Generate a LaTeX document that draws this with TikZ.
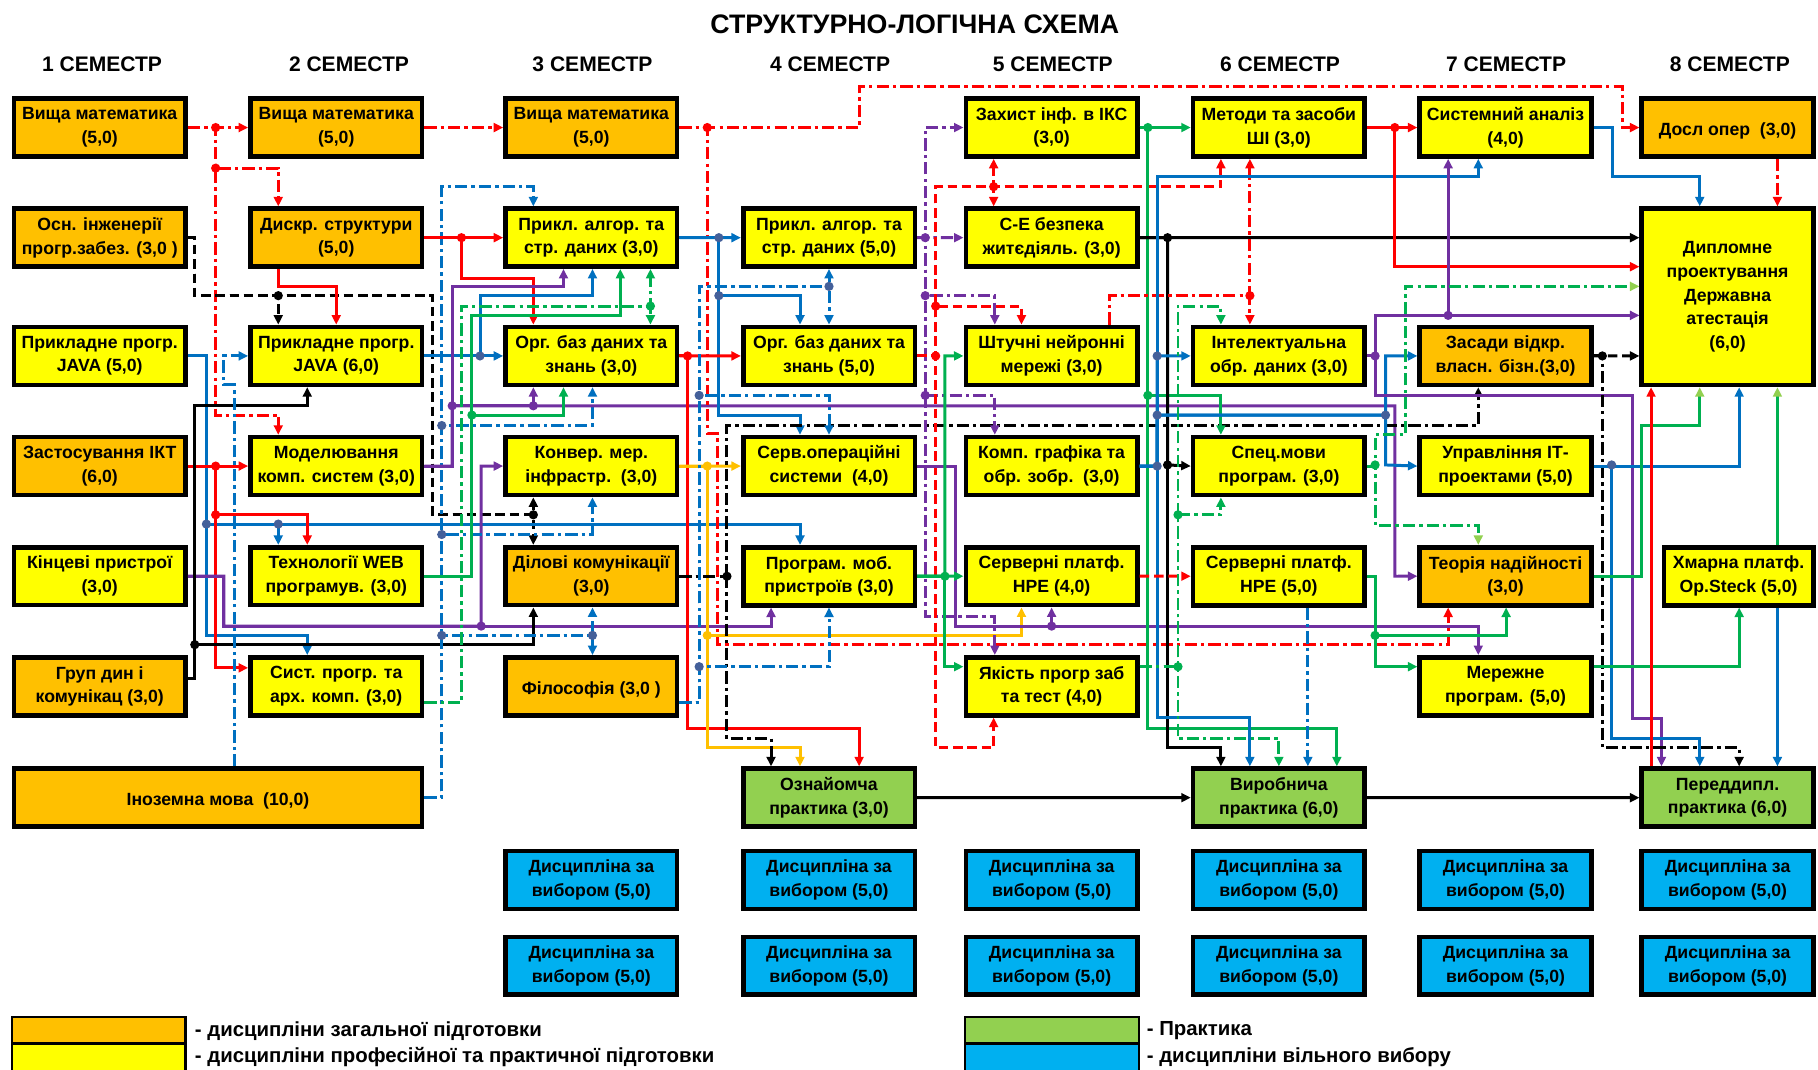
\documentclass[tikz,border=0pt]{standalone}
\usepackage{fontspec}
\setmainfont{Liberation Sans}
\usepackage{xcolor}
\usepackage{tikz}
\usetikzlibrary{arrows.meta, positioning}
\definecolor{forange}{HTML}{FFC000}
\definecolor{fyellow}{HTML}{FFFF00}
\definecolor{fgreen}{HTML}{92D050}
\definecolor{fblue}{HTML}{00B0F0}
\definecolor{lred}{HTML}{FF0000}
\definecolor{lblue}{HTML}{0070C0}
\definecolor{lpurple}{HTML}{7030A0}
\definecolor{lgreen}{HTML}{00B050}
\definecolor{lgold}{HTML}{FFC000}
\definecolor{ldot}{HTML}{44609A}
\tikzstyle{arrow} = [-{Triangle[length=7pt,width=6.5pt]}]
\newcommand{\jdot}[2]{\fill[#1] (#2) circle (3.4pt);}

\begin{document}
\begin{tikzpicture}[
    x=0.03cm, y=-0.03cm,
    node distance=1.23cm,
    course/.style={
      draw=black,
      line width=3.4pt,
      minimum width=4.44cm,
      minimum height=1.5cm,
      inner sep=1pt,
      align=center,
      execute at begin node=\rule{0pt}{14pt},
      font=\fontsize{13pt}{17.4pt}\selectfont\bfseries
    },
    gen/.style={course, fill=forange},
    prof/.style={course, fill=fyellow},
    prac/.style={course, fill=fgreen},
    elect/.style={course, fill=fblue},
    link/.style={line width=2.2pt, arrow},
    lgtip/.style={line width=2.2pt, -{Triangle[length=7pt,width=6.5pt,color=fgreen]}},
    dd/.style={dash pattern=on 9pt off 3pt on 2.5pt off 3pt},
    dsh/.style={dash pattern=on 7pt off 3.5pt},
    sem/.style={font=\fontsize{15.5pt}{18pt}\selectfont\bfseries},
    legtext/.style={anchor=west, font=\fontsize{15pt}{17pt}\selectfont\bfseries}
]
\useasboundingbox (0,0) rectangle (1568,922);

% Headings
\node (title) [font=\fontsize{19.7pt}{23pt}\selectfont\bfseries] at (789,21) {СТРУКТУРНО-ЛОГІЧНА СХЕМА};
\node (sem1) [sem] at (88,55) {1 СЕМЕСТР};
\node (sem2) [sem] at (301,55) {2 СЕМЕСТР};
\node (sem3) [sem] at (511,55) {3 СЕМЕСТР};
\node (sem4) [sem] at (716,55) {4 СЕМЕСТР};
\node (sem5) [sem] at (908,55) {5 СЕМЕСТР};
\node (sem6) [sem] at (1104,55) {6 СЕМЕСТР};
\node (sem7) [sem] at (1299,55) {7 СЕМЕСТР};
\node (sem8) [sem] at (1492,55) {8 СЕМЕСТР};

% Semester 1
\node (vm1) [gen] at (86,110) {Вища математика\\(5,0)};
\node (osn) [gen, below=of vm1] {Осн. інженерії\\прогр.забез. (3,0 )};
\node (java1) [prof, below=1.44cm of osn] {Прикладне прогр.\\JAVA (5,0)};
\node (ikt) [gen, below=of java1] {Застосування ІКТ\\(6,0)};
\node (kinc) [prof, below=of ikt] {Кінцеві пристрої\\(3,0)};
\node (grup) [gen, below=of kinc] {Груп дин і\\комунікац (3,0)};
\node (inoz) [gen, minimum width=10.56cm] at (188,688) {Іноземна мова\ \ (10,0)};

% Semester 2
\node (vm2) [gen] at (290,110) {Вища математика\\(5,0)};
\node (dyskr) [gen, below=of vm2] {Дискр. структури\\(5,0)};
\node (java2) [prof, below=1.44cm of dyskr] {Прикладне прогр.\\JAVA (6,0)};
\node (model) [prof, below=of java2] {Моделювання\\комп. систем (3,0)};
\node (web) [prof, below=of model] {Технології WEB\\програмув. (3,0)};
\node (syst) [prof, below=of web] {Сист. прогр. та\\арх. комп. (3,0)};

% Semester 3
\node (vm3) [gen] at (510,110) {Вища математика\\(5,0)};
\node (alg3) [prof, below=of vm3] {Прикл. алгор. та\\стр. даних (3,0)};
\node (bd3) [prof, below=1.44cm of alg3] {Орг. баз даних та\\знань (3,0)};
\node (konv) [prof, below=of bd3] {Конвер. мер.\\інфрастр.\ \ (3,0)};
\node (dilov) [gen, below=of konv] {Ділові комунікації\\(3,0)};
\node (filos) [gen, below=of dilov] {Філософія (3,0 )};

% Semester 4
\node (alg4) [prof] at (715,205) {Прикл. алгор. та\\стр. даних (5,0)};
\node (bd4) [prof, below=1.44cm of alg4] {Орг. баз даних та\\знань (5,0)};
\node (servos) [prof, below=of bd4] {Серв.операційні\\системи\ \ (4,0)};
\node (mob) [prof, below=of servos] {Програм. моб.\\пристроїв (3,0)};
\node (oznay) [prac, below=4.11cm of mob] {Ознайомча\\практика (3,0)};

% Semester 5
\node (zahyst) [prof] at (907,110) {Захист інф. в ІКС\\(3,0)};
\node (bezp) [prof, below=of zahyst] {С-Е безпека\\житєдіяль. (3,0)};
\node (nejr) [prof, below=1.44cm of bezp] {Штучні нейронні\\мережі (3,0)};
\node (graf) [prof, below=of nejr] {Комп. графіка та\\обр. зобр.\ \ (3,0)};
\node (hpe4) [prof, below=of graf] {Серверні платф.\\HPE (4,0)};
\node (yakist) [prof, below=of hpe4] {Якість прогр заб\\та тест (4,0)};

% Semester 6
\node (metody) [prof] at (1103,110) {Методи та засоби\\ШІ (3,0)};
\node (intel) [prof, below=4.29cm of metody] {Інтелектуальна\\обр. даних (3,0)};
\node (spec) [prof, below=of intel] {Спец.мови\\програм. (3,0)};
\node (hpe5) [prof, below=of spec] {Серверні платф.\\HPE (5,0)};
\node (vyrob) [prac, below=4.11cm of hpe5] {Виробнича\\практика (6,0)};

% Semester 7
\node (sysan) [prof] at (1298.5,110) {Системний аналіз\\(4,0)};
\node (zasady) [gen, below=4.29cm of sysan] {Засади відкр.\\власн. бізн.(3,0)};
\node (uprav) [prof, below=of zasady] {Управління ІТ-\\проектами (5,0)};
\node (nadij) [gen, below=of uprav] {Теорія надійності\\(3,0)};
\node (merezh) [prof, below=of nadij] {Мережне\\програм. (5,0)};

% Semester 8
\node (dosl) [gen] at (1490,110) {Досл опер\ \ (3,0)};
\node (dyplom) [prof, minimum height=4.56cm, below=of dosl] {Дипломне\\проектування\\Державна\\атестація\\(6,0)};
\node (hmar) [prof, minimum width=3.87cm] at (1499.5,497) {Хмарна платф.\\Op.Steck (5,0)};
\node (peredd) [prac] at (1490,688) {Переддипл.\\практика (6,0)};

% Electives
\node (el3a) [elect] at (510,759) {Дисципліна за\\вибором (5,0)};
\node (el3b) [elect, below=0.6cm of el3a] {Дисципліна за\\вибором (5,0)};
\node (el4a) [elect] at (oznay |- el3a) {Дисципліна за\\вибором (5,0)};
\node (el4b) [elect, below=0.6cm of el4a] {Дисципліна за\\вибором (5,0)};
\node (el5a) [elect] at (zahyst |- el3a) {Дисципліна за\\вибором (5,0)};
\node (el5b) [elect, below=0.6cm of el5a] {Дисципліна за\\вибором (5,0)};
\node (el6a) [elect] at (vyrob |- el3a) {Дисципліна за\\вибором (5,0)};
\node (el6b) [elect, below=0.6cm of el6a] {Дисципліна за\\вибором (5,0)};
\node (el7a) [elect] at (sysan |- el3a) {Дисципліна за\\вибором (5,0)};
\node (el7b) [elect, below=0.6cm of el7a] {Дисципліна за\\вибором (5,0)};
\node (el8a) [elect] at (peredd |- el3a) {Дисципліна за\\вибором (5,0)};
\node (el8b) [elect, below=0.6cm of el8a] {Дисципліна за\\вибором (5,0)};

% Legend
\draw[fill=forange, line width=1.5pt] (10,877) rectangle (160,900);
\draw[fill=fyellow, line width=1.5pt] (10,900) rectangle (160,926);
\draw[fill=fgreen, line width=1.5pt] (832,877) rectangle (982,900);
\draw[fill=fblue, line width=1.5pt] (832,900) rectangle (982,926);
\node (leg1) [legtext] at (164,889) {- дисципліни загальної підготовки};
\node (leg2) [legtext] at (164,912) {- дисципліни професійної та практичної підготовки};
\node (leg3) [legtext] at (985,889) {- Практика};
\node (leg4) [legtext] at (985,912) {- дисципліни вільного вибору};

% Links: semester 1
\draw[link, lred, dd] (vm1.east) -- (vm2.west);
\draw[link, lred, dd] (vm1.east) -| (186,145) -| (dyskr.north -| 240,0);
\draw[link, lred, dd] (vm1.east) -| (186,358) -| (model.north -| 240,0);
\draw[link, dsh] (osn.east) -| (168,255) -| (java2.north -| 240,0);
\draw[link, dsh] (osn.east) -| (168,255) -| (373,444) -| (konv.south -| 460,0);
\draw[link, dsh] (osn.east) -| (168,255) -| (373,444) -| (dilov.north -| 460,0);
\draw[link, lblue] (java1.east) -| (178,548) -| (syst.north -| 265,0);
\draw[link, lblue] (java1.east) -| (178,452) -| (mob.north -| 690,0);
\draw[link, lblue] (java1.east) -| (178,452) -| (web.north -| 240,0);
\draw[link, lred] (ikt.east) -- (model.west);
\draw[link, lred] (ikt.east) -| (186,444) -| (web.north -| 265,0);
\draw[link, lred] (ikt.east) -| (186,576) -- (syst.west |- 0,576);
\draw[link, lpurple] (kinc.east) -| (193,540) -| (mob.south -| 665,0);
\draw[link, lpurple] (kinc.east) -| (193,540) -| (415,402) -- (konv.west);
\draw[link] (grup.east |- 0,585) -| (168,350) -| (java2.south -| 265,0);
\draw[link] (grup.east |- 0,585) -| (168,556) -| (dilov.south -| 460,0);
\draw[link, lblue, dd] (inoz.north -| 202,0) -- (202,332) -- (193,332) |- (java2.west);
\draw[link, lblue, dd] (inoz.east) -| (381,161) -| (alg3.north -| 460,0);
\draw[link, lblue, dd] (inoz.east) -| (381,367) -| (bd3.south -| 511,0);
\draw[link, lblue, dd] (inoz.east) -| (381,461) -| (konv.south -| 511,0);
\draw[link, lblue, dd] (inoz.east) -| (381,548) -| (dilov.south -| 511,0);
\draw[link, lblue, dd] (inoz.east) -| (381,548) -| (filos.north -| 511,0);

% Links: semester 2
\draw[link, lred, dd] (vm2.east) -- (vm3.west);
\draw[link, lred] (dyskr.east) -- (alg3.west);
\draw[link, lred] (dyskr.east) -| (398,240) -| (bd3.north -| 460,0);
\draw[link, lred] (dyskr.south -| 240,0) |- (290,247) -- (java2.north);
\draw[link, lblue] (java2.east) -- (bd3.west);
\draw[link, lblue] (java2.east) -| (414,255) -| (alg3.south -| 511,0);
\draw[link, lpurple] (model.east) -| (390,247) -| (alg3.south -| 486,0);
\draw[link, lpurple] (model.east) -| (390,350) -| (bd3.south -| 460,0);
\draw[link, lpurple] (model.east) -| (390,350) -| (1203,497) -- (nadij.west);
\draw[link, lgreen] (web.east) -| (407,272) -| (alg3.south -| 535,0);
\draw[link, lgreen] (web.east) -| (407,358) -| (bd3.south -| 486,0);
\draw[link, lgreen, dd] (syst.east |- 0,606) -| (398,264) -| (alg3.south -| 561,0);
\draw[link, lgreen, dd] (syst.east |- 0,606) -| (398,264) -| (bd3.north -| 561,0);

% Links: semester 3
\draw[link, lred, dd] (vm3.east) -| (741,75) -| (1399,110) -- (dosl.west);
\draw[link, lred, dd] (vm3.east) -| (610,374) -| (619,556) -| (nadij.south -| 1249,0);
\draw[link, lblue] (alg3.east) -- (alg4.west);
\draw[link, lblue] (alg3.east) -| (620,255) -| (bd4.north -| 690,0);
\draw[link, lblue] (alg3.east) -| (620,358) -| (servos.north -| 690,0);
\draw[link, lred] (bd3.east) -- (bd4.west);
\draw[link, lred] (bd3.east) -| (593,628) -| (oznay.north -| 741,0);
\draw[link, lgold] (konv.east) -- (servos.west);
\draw[link, lgold] (konv.east) -| (610,548) -| (hpe4.south -| 881,0);
\draw[link, lgold] (konv.east) -| (610,645) -| (oznay.north -| 690,0);
\draw[link, dd] (dilov.east) -| (627,637) -| (oznay.north -| 665,0);
\draw[link, dd] (dilov.east) -| (627,367) -| (zasady.south -| 1275,0);
\draw[link, lblue, dd] (filos.east |- 0,606) -| (603,247) -| (alg4.south -| 715,0);
\draw[link, lblue, dd] (filos.east |- 0,606) -| (603,247) -| (bd4.north -| 715,0);
\draw[link, lblue, dd] (filos.east |- 0,606) -| (603,341) -| (servos.north -| 715,0);
\draw[link, lblue, dd] (filos.east |- 0,606) -| (603,575) -| (mob.south -| 715,0);

% Links: semester 4
\draw[link, lpurple, dd] (alg4.east) -- (bezp.west);
\draw[link, lpurple, dd] (alg4.east) -| (798,110) -- (zahyst.west);
\draw[link, lpurple, dd] (alg4.east) -| (798,255) -| (nejr.north -| 858,0);
\draw[link, lpurple, dd] (alg4.east) -| (798,341) -| (graf.north -| 858,0);
\draw[link, lpurple, dd] (alg4.east) -| (798,532) -| (yakist.north -| 858,0);
\draw[link, lred, dsh] (bd4.east) -| (807,161) -| (metody.south -| 1053,0);
\draw[link, lred, dsh] (bd4.east) -| (807,161) -| (zahyst.south -| 857,0);
\draw[link, lred, dsh] (bd4.east) -| (807,161) -| (bezp.north -| 857,0);
\draw[link, lred, dsh] (bd4.east) -| (807,264) -| (nejr.north -| 881,0);
\draw[link, lred, dsh] (bd4.east) -| (807,645) -| (yakist.south -| 857,0);
\draw[link, lpurple] (servos.east) -| (824,540) -| (hpe4.south -| 907,0);
\draw[link, lpurple] (servos.east) -| (824,540) -| (merezh.north -| 1275,0);
\draw[link, lgreen] (mob.east) -- (hpe4.west);
\draw[link, lgreen] (mob.east) -| (815,307) -- (nejr.west);
\draw[link, lgreen] (mob.east) -| (815,575) -- (yakist.west |- 0,575);
\draw[link] (oznay.east) -- (vyrob.west);

% Links: semester 5
\draw[link, lgreen] (zahyst.east) -- (metody.west);
\draw[link, lgreen] (zahyst.east) -| (990,341) -| (spec.north -| 1053,0);
\draw[link, lgreen] (zahyst.east) -| (990,628) -| (vyrob.north -| 1153,0);
\draw[link] (bezp.east) -- (dyplom.west |- 0,205);
\draw[link] (bezp.east) -| (1007,401) -- (spec.west);
\draw[link] (bezp.east) -| (1007,645) -| (vyrob.north -| 1053,0);
\draw[link, lred, dd] (nejr.north -| 957,0) |- (1078,255) -- (metody.south -| 1078,0);
\draw[link, lred, dd] (nejr.north -| 957,0) |- (1078,255) -- (intel.north -| 1078,0);
\draw[link, lblue] (graf.east) -| (998,152) -| (sysan.south -| 1275,0);
\draw[link, lblue] (graf.east) -| (998,307) -- (intel.west);
\draw[link, lblue] (graf.east) -| (998,358) -| (1195,307) -- (zasady.west);
\draw[link, lblue] (graf.east) -| (998,358) -| (1195,401) -- (uprav.west);
\draw[link, lblue] (graf.east) -| (998,619) -| (vyrob.north -| 1078,0);
\draw[link, lred, dsh] (hpe4.east) -- (hpe5.west);
\draw[link, lgreen, dd] (yakist.east |- 0,575) -| (1016,264) -| (intel.north -| 1053,0);
\draw[link, lgreen, dd] (yakist.east |- 0,575) -| (1016,444) -| (spec.south -| 1053,0);
\draw[link, lgreen, dd] (yakist.east |- 0,575) -| (1016,637) -| (vyrob.north -| 1103,0);

% Links: semester 6
\draw[link, lred] (metody.east) -- (sysan.west);
\draw[link, lred] (metody.east) -| (1203,230) -- (dyplom.west |- 0,230);
\draw[link, lpurple] (intel.east) -| (1186,272) -| (sysan.south -| 1249,0);
\draw[link, lpurple] (intel.east) -| (1186,272) -- (dyplom.west |- 0,272);
\draw[link, lpurple] (intel.east) -| (1186,341) -| (1408,620) -| (peredd.north -| 1433,0);
\draw[lgtip, lgreen, dd] (spec.east) -| (1186,453) -| (nadij.north -| 1275,0);
\draw[lgtip, lgreen, dd] (spec.east) -| (1186,375) -| (1212,247) -- (dyplom.west |- 0,247);
\draw[link, lgreen] (hpe5.east) -| (1186,548) -| (nadij.south -| 1299,0);
\draw[link, lgreen] (hpe5.east) -| (1186,575) -- (merezh.west |- 0,575);
\draw[link, lblue, dd] (hpe5.south -| 1128,0) -- (vyrob.north -| 1128,0);
\draw[link] (vyrob.east) -- (peredd.west);

% Links: semester 7 and 8
\draw[link, lblue] (sysan.east) -| (1391,152) -| (dyplom.north -| 1466,0);
\draw[link, lred, dd] (dosl.south -| 1533,0) -- (dyplom.north -| 1533,0);
\draw[link, dsh] (zasady.east) -- (dyplom.west |- 0,307);
\draw[link, dd] (zasady.east) -| (1382,645) -| (peredd.north -| 1500,0);
\draw[link, lblue] (uprav.east) -| (dyplom.south -| 1500,0);
\draw[link, lblue] (uprav.east) -| (1390,637) -| (peredd.north -| 1466,0);
\draw[lgtip, lgreen] (nadij.east) -| (1416,367) -| (dyplom.south -| 1466,0);
\draw[link, lgreen] (merezh.east |- 0,575) -| (hmar.south -| 1500,0);
\draw[lgtip, lgreen] (hmar.north -| 1533,0) -- (dyplom.south -| 1533,0);
\draw[link, lblue] (hmar.south -| 1533,0) -- (peredd.north -| 1533,0);
\draw[link, lred] (peredd.north -| 1424,0) -- (dyplom.south -| 1424,0);

% Junction dots
\jdot{lred}{186,110} \jdot{lred}{186,145} \jdot{lred}{610,110} \jdot{lred}{398,205}
\jdot{lred}{186,402} \jdot{lred}{186,444} \jdot{lred}{593,307} \jdot{lred}{857,161}
\jdot{lred}{807,307} \jdot{lred}{807,264} \jdot{lred}{1078,255} \jdot{lred}{1203,110}
\jdot{black}{240,255} \jdot{black}{460,444} \jdot{black}{168,556} \jdot{black}{627,497}
\jdot{black}{1007,205} \jdot{black}{1007,401} \jdot{black}{1382,307}
\jdot{ldot}{178,452} \jdot{ldot}{240,452} \jdot{ldot}{381,367} \jdot{ldot}{381,461}
\jdot{ldot}{381,548} \jdot{ldot}{511,548} \jdot{ldot}{414,307} \jdot{ldot}{620,205}
\jdot{ldot}{620,255} \jdot{ldot}{715,247} \jdot{ldot}{603,341} \jdot{ldot}{603,575}
\jdot{ldot}{998,402} \jdot{ldot}{998,307} \jdot{ldot}{998,358} \jdot{ldot}{1195,358}
\jdot{ldot}{1390,401}
\jdot{lpurple}{390,350} \jdot{lpurple}{460,350} \jdot{lpurple}{415,540} \jdot{lpurple}{798,205}
\jdot{lpurple}{798,255} \jdot{lpurple}{798,341} \jdot{lpurple}{907,540} \jdot{lpurple}{1186,307}
\jdot{lpurple}{1249,272}
\jdot{lgreen}{407,358} \jdot{lgreen}{561,264} \jdot{lgreen}{815,497} \jdot{lgreen}{990,110}
\jdot{lgreen}{990,341} \jdot{lgreen}{1016,444} \jdot{lgreen}{1016,575} \jdot{lgreen}{1186,548}
\jdot{lgreen}{1186,401}
\jdot{lgold}{610,402} \jdot{lgold}{610,548}

\end{tikzpicture}
\end{document}
